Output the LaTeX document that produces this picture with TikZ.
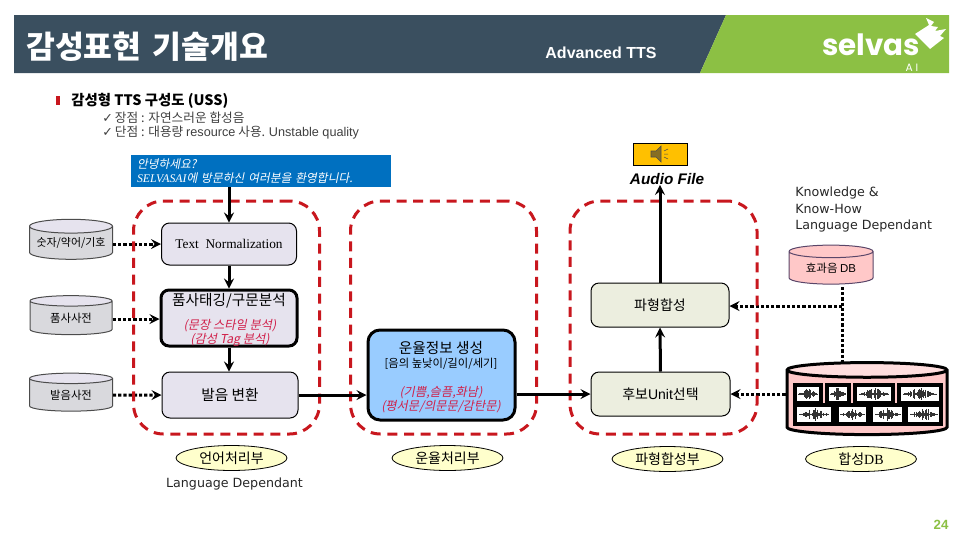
\documentclass[tikz,border=0pt]{standalone}
\usepackage{fontspec}
\setmainfont{Noto Sans CJK KR}
\newfontfamily\krit[FakeSlant=0.2]{Noto Sans CJK KR}
\newfontfamily\latinsans{Liberation Sans}
\newfontfamily\latinserif{Liberation Serif}
\newfontfamily\knowfont{DejaVu Sans}
\newfontfamily\logofont{Poppins}
\usetikzlibrary{shapes.geometric}
\def\px{0.75pt}
\definecolor{bannerdark}{HTML}{3A4F5F}
\definecolor{bannergreen}{HTML}{8CC044}
\definecolor{groupred}{HTML}{C8171E}
\definecolor{textred}{HTML}{D0204A}
\definecolor{lilacbox}{HTML}{E6E3EE}
\definecolor{olivebox}{HTML}{ECEEDF}
\definecolor{skybox}{HTML}{99CCFF}
\definecolor{bluebar}{HTML}{0070C0}
\definecolor{ellipsefill}{HTML}{FFFFCC}
\definecolor{pinkdb}{HTML}{FFC8C8}
\definecolor{greydb}{HTML}{D9D9DD}
\definecolor{audioyellow}{HTML}{FFC000}
\definecolor{speakerbrown}{HTML}{876E23}
\definecolor{fxedge}{HTML}{5A4669}
\tikzset{
  procbox/.style={draw, rounded corners=8*\px, align=center, inner sep=0pt, line width=1*\px},
  dbbox/.style={cylinder, shape border rotate=90, aspect=0.25, draw=black!70, cylinder uses custom fill, inner sep=0pt, line width=1*\px},
  unitbox/.style={ellipse, draw, fill=ellipsefill, inner sep=0pt, minimum width=111*\px, minimum height=25*\px, line width=.8*\px, font=\fontsize{10.5pt}{12pt}\selectfont},
  groupbox/.style={draw=groupred, rounded corners=30*\px, line width=3*\px, dash pattern=on 7.5pt off 5pt, inner sep=0pt},
  flow/.style={->, line width=3*\px},
  dictflow/.style={->, line width=3*\px, dash pattern=on 2.4pt off 1.5pt},
  wavebox/.style={draw, fill=white, line width=3.5*\px, inner sep=0pt},
  note/.style={font=\krit\fontsize{9.2pt}{10.5pt}\selectfont, text=textred, align=center}
}
\begin{document}
\begin{tikzpicture}[>=stealth, x=0.75pt, y=-0.75pt]
\useasboundingbox (0,0) rectangle (960,540);

% banner
\fill[bannerdark] (14,15) -- (726,15) -- (700,73) -- (14,73) -- cycle;
\fill[bannergreen] (726,15) -- (949,15) -- (949,73) -- (700,73) -- cycle;
\node[anchor=west, inner sep=0pt, text=white, font=\bfseries\fontsize{23.5pt}{25pt}\selectfont] (title) at (26,47) {감성표현\hspace{3pt} 기술개요};
\node[text=white, inner sep=0pt, font=\latinsans\bfseries\fontsize{12pt}{14pt}\selectfont] (subtitle) at (601,53) {Advanced TTS};
\node[text=white, inner sep=0pt, font=\logofont\bfseries\fontsize{22pt}{24pt}\selectfont] (logo) at (871,45) {selvas};
\node[text=white, inner sep=0pt, font=\logofont\fontsize{8pt}{9pt}\selectfont] (logoai) at (912,68) {A I};
\fill[white] (915,34) -- (929,25) -- (926,18) -- (934,22) -- (931,26) -- (938,27) -- (935,31) -- (946,29) -- (940,36) -- (944,38) -- (930,49) -- (925,44) -- cycle;

% heading
\fill[groupred] (56,96) rectangle (60,105);
\node[anchor=west, inner sep=0pt, font=\bfseries\fontsize{10.8pt}{12pt}\selectfont] (head) at (71,101) {감성형 TTS 구성도 (USS)};
\node[anchor=west, inner sep=0pt, text=black!75, font=\fontsize{9.5pt}{11pt}\selectfont] (pro) at (102,118) {{\knowfont ✓}\,장점 : 자연스러운 합성음};
\node[anchor=west, inner sep=0pt, text=black!75, font=\fontsize{9.5pt}{11pt}\selectfont] (con) at (102,133) {{\knowfont ✓}\,단점 : 대용량 {\latinsans resource} 사용. {\latinsans Unstable quality}};

% input text
\node[fill=bluebar, text=white, minimum width=260*\px, minimum height=32*\px, text width=248*\px, inner sep=0pt, align=left, font=\krit\fontsize{8.8pt}{10.5pt}\selectfont] (blue) at (261,171) {안녕하세요?\\{\latinserif\itshape SELVASAI}에 방문하신 여러분을 환영합니다.};

% language processing
\node[procbox, fill=lilacbox, minimum width=135*\px, minimum height=42*\px, font=\latinserif\fontsize{10pt}{12pt}\selectfont] (norm) at (229,244) {Text \ Normalization};
\node[procbox, fill=lilacbox, minimum width=136*\px, minimum height=56*\px, line width=3*\px] (pos) at (229,318) {};
\node[inner sep=0pt, font=\fontsize{11pt}{13pt}\selectfont] (postxt) at (229,301) {품사태깅/구문분석};
\node[note] (posnote) at (230,332.5) {(문장 스타일 분석)\\(감성 Tag 분석)};
\node[procbox, fill=lilacbox, minimum width=136*\px, minimum height=46*\px, font=\fontsize{11pt}{13pt}\selectfont] (phone) at (230,395) {발음 변환};

% dictionaries
\node[dbbox, aspect=0.2, cylinder body fill=greydb, cylinder end fill=lilacbox, minimum width=83*\px, minimum height=40*\px, font=\fontsize{8.2pt}{9pt}\selectfont] (numdb) at (71,243) {숫자/약어/기호};
\node[dbbox, cylinder body fill=greydb, cylinder end fill=lilacbox, minimum width=82*\px, minimum height=39*\px, font=\fontsize{8.5pt}{10pt}\selectfont] (posdb) at (71,318) {품사사전};
\node[dbbox, cylinder body fill=greydb, cylinder end fill=lilacbox, minimum width=83*\px, minimum height=38*\px, font=\fontsize{8.5pt}{10pt}\selectfont] (phonedb) at (71,395) {발음사전};

% prosody
\node[procbox, fill=skybox, minimum width=147*\px, minimum height=90*\px, line width=3*\px, rounded corners=12*\px] (pros) at (441.5,375) {};
\node[inner sep=0pt, font=\fontsize{11pt}{13pt}\selectfont] (prostxt) at (441,348) {운율정보 생성};
\node[inner sep=0pt, font=\fontsize{8.5pt}{10pt}\selectfont] (prossub) at (441,364) {[음의 높낮이/길이/세기]};
\node[note] (prosnote) at (441,400) {(기쁨,슬픔,화남)\\(평서문/의문문/감탄문)};

% synthesis
\node[procbox, fill=olivebox, minimum width=138*\px, minimum height=44*\px, font=\fontsize{10.5pt}{12pt}\selectfont] (syn) at (660,305) {파형합성};
\node[procbox, fill=olivebox, minimum width=139*\px, minimum height=44*\px, font=\fontsize{10.5pt}{12pt}\selectfont] (unit) at (660.5,394) {후보{\latinsans Unit}선택};
\node[draw, fill=audioyellow, minimum width=54*\px, minimum height=22*\px, inner sep=0pt] (audio) at (660,154) {};
\fill[speakerbrown, draw=black!70] (651,151) -- (656,151) -- (661,146) -- (661,162) -- (656,157) -- (651,157) -- cycle;
\draw[black!70, line width=.5*\px] (664,151) -- (668,149) (664,154) -- (668,154) (664,157) -- (668,159);
\node[inner sep=0pt, font=\latinsans\bfseries\itshape\fontsize{11.5pt}{13pt}\selectfont] (audiotxt) at (667,179) {Audio File};

\node[anchor=north west, inner sep=0pt, align=left, text=black!85, font=\knowfont\fontsize{9.5pt}{12.3pt}\selectfont] (know) at (795,187) {Knowledge \&\\Know-How\\Language Dependant};

% databases
\node[dbbox, draw=fxedge, cylinder body fill=pinkdb, cylinder end fill=pinkdb, minimum width=84*\px, minimum height=39*\px, font=\fontsize{8.6pt}{10pt}\selectfont] (fxdb) at (831,268) {효과음 {\latinsans DB}};
\node[dbbox, draw=black, cylinder body fill=pinkdb, cylinder end fill=pinkdb!60!white, minimum width=160*\px, minimum height=72*\px, line width=3*\px, aspect=0.11] (wavedb) at (867,403) {\phantom{\rule{100pt}{8pt}}};
\pgfmathsetseed{24}
\foreach \nm/\cx/\cy/\bw/\bh in {wa/808/394/26/18, wb/838/394/22/18, wc/874/394/38/18, wd/920/394/42/18, we/814/414.5/38/19, wf/852.5/414.5/31/19, wg/887.5/414.5/33/19, wh/923.5/414.5/35/19}{
  \node[wavebox, minimum width=\bw*\px, minimum height=\bh*\px] (\nm) at (\cx,\cy) {};
  \foreach \t in {0.03,0.06,...,0.98}{
    \pgfmathsetmacro\xx{\cx+(\t-0.5)*(\bw-6)}
    \pgfmathsetmacro\rr{0.4+(\bh/2-3)*rnd*sin(180*\t)*sin(180*\t)}
    \draw[black!80, line width=.6*\px] (\xx,\cy-\rr) -- (\xx,\cy+\rr);
  }
}

% unit labels
\node[unitbox] (langunit) at (231.5,458) {언어처리부};
\node[unitbox] (prosunit) at (447.5,458) {운율처리부};
\node[unitbox] (synunit) at (667.5,459) {파형합성부};
\node[unitbox] (dbunit) at (861,459) {합성{\latinserif DB}};
\node[inner sep=0pt, text=black!85, font=\knowfont\fontsize{9.5pt}{11pt}\selectfont] (langtxt) at (234.5,484) {Language Dependant};
\node[inner sep=0pt, text=bannergreen, font=\latinsans\bfseries\fontsize{10pt}{12pt}\selectfont] (pagenum) at (941,525) {24};

% dictionary lookups
\coordinate (fxout) at (842,287);
\coordinate (dbin) at (842,364);
\coordinate (fxturn) at (842,306);
\draw[dictflow] (numdb.east |- norm) -- (norm.west);
\draw[dictflow] (posdb.east |- 0,319) -- (pos.west |- 0,319);
\draw[dictflow] (phonedb.east) -- (phone.west);
\draw[dictflow, -] (fxout) -- (dbin);
\draw[dictflow] (fxturn) -- (syn.east |- fxturn);
\draw[dictflow] (wavedb.west |- unit) -- (unit.east);

% groups
\node[groupbox, minimum width=186*\px, minimum height=233*\px] (langgroup) at (226.5,317.5) {};
\node[groupbox, minimum width=186*\px, minimum height=233*\px] (prosgroup) at (443.5,317.5) {};
\node[groupbox, minimum width=187*\px, minimum height=233*\px] (syngroup) at (663.5,317.5) {};

% main flow
\draw[flow] (norm.north |- blue.south) -- (norm.north);
\draw[flow] (norm.south) -- (pos.north -| norm.south);
\draw[flow] (pos.south -| norm.south) -- (phone.north -| norm.south);
\draw[flow] (phone.east) -- (pros.west |- phone.east);
\draw[flow] (pros.east |- unit) -- (unit.west);
\draw[flow] (unit.north) -- (syn.south);
\draw[flow] (syn.north) -- (syn.north |- audiotxt.south);
\end{tikzpicture}
\end{document}
